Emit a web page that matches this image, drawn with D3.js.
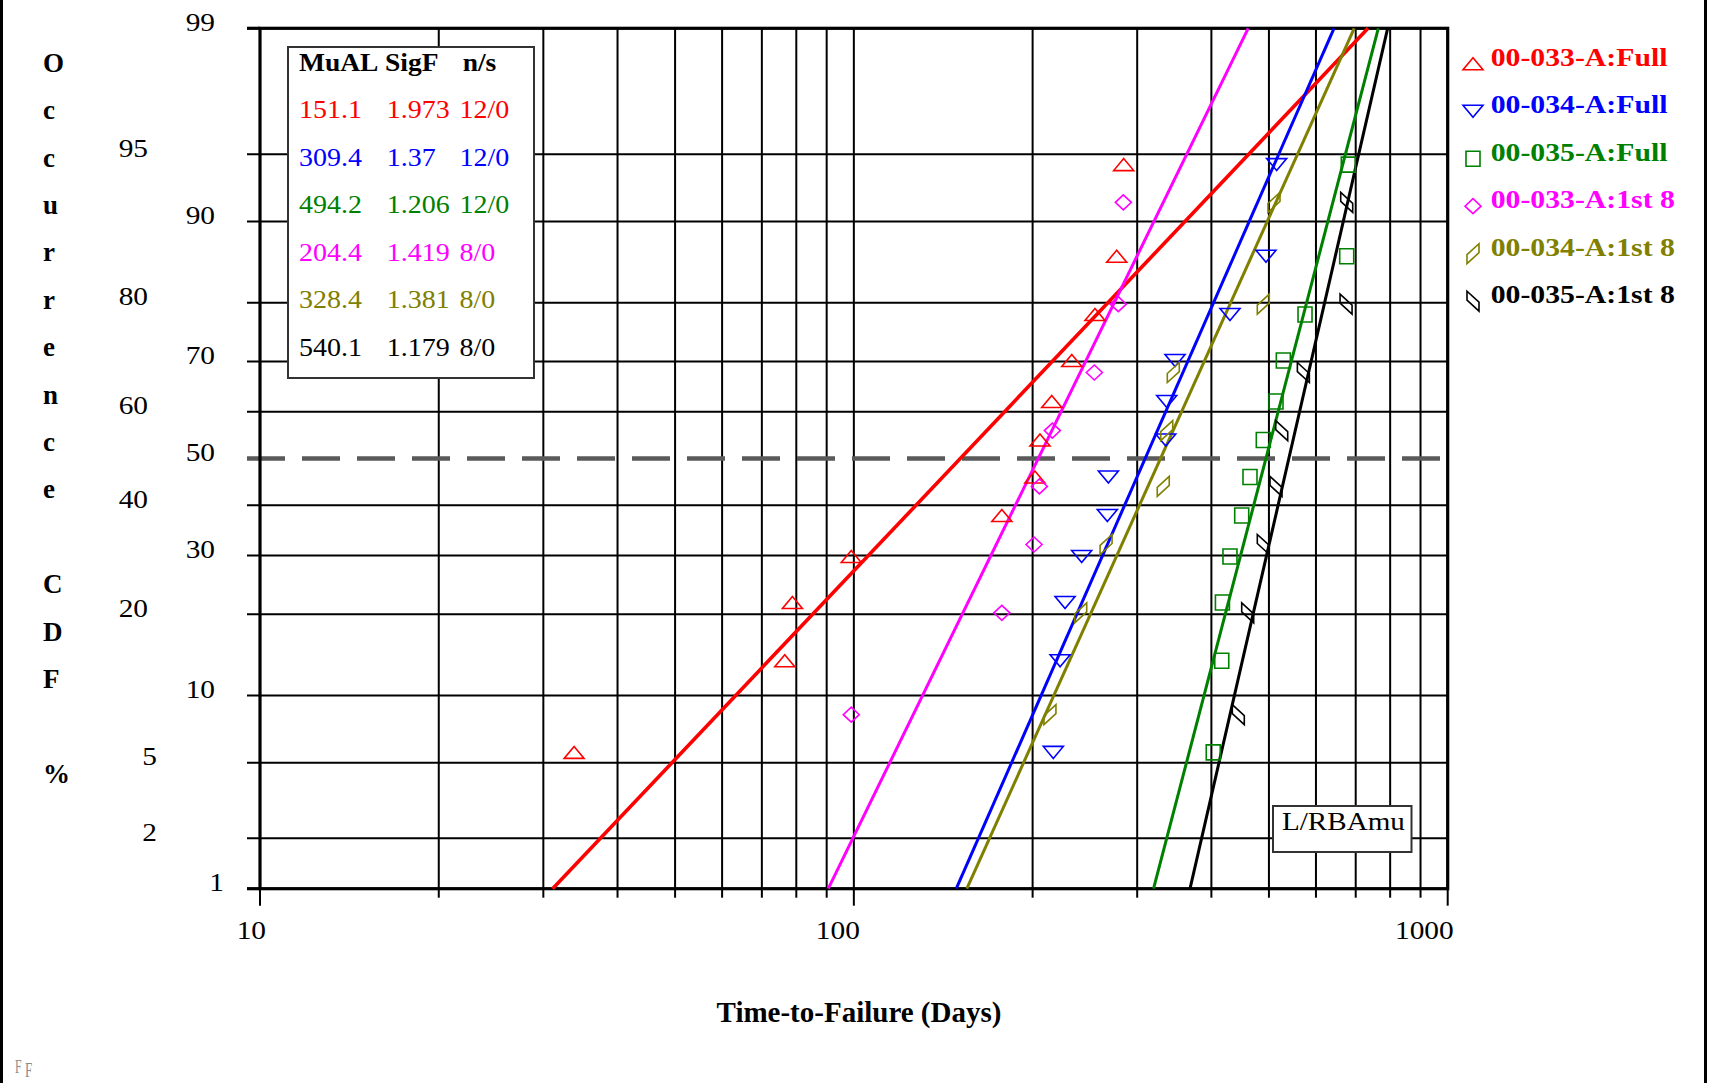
<!DOCTYPE html>
<html>
<head>
<meta charset="utf-8">
<script src="https://cdn.jsdelivr.net/npm/d3@7"></script>
<style>
  html, body { margin: 0; padding: 0; background: #fff; }
  svg { display: block; }
  text { font-family: "Liberation Serif", "Times New Roman", serif; }
</style>
</head>
<body>
<div id="chart"></div>
<script>
// ---- data ----
const seriesNames = ["00-033-A:Full", "00-034-A:Full", "00-035-A:Full",
                     "00-033-A:1st 8", "00-034-A:1st 8", "00-035-A:1st 8"]
const seriesColors = ["#ff0000", "#0000ff", "#008000", "#ff00ff", "#808000", "#000000"]
const seriesShapes = ["triUp", "triDown", "square", "diamond", "slashR", "slashL"]

// fit parameters (MuAL = median life, SigF = exp(sigma))
const muAL = [151.1, 309.4, 494.2, 204.4, 328.4, 540.1]
const sigF = [1.973, 1.37, 1.206, 1.419, 1.381, 1.179]
const nsLabels = ["12/0", "12/0", "12/0", "8/0", "8/0", "8/0"]

// plotting positions (% cumulative) for 12 and 8 samples
const cdf12 = [5.6, 13.7, 21.8, 29.8, 37.9, 46.0, 54.0, 62.1, 70.2, 78.2, 86.3, 94.4]
const cdf8 = [8.3, 20.2, 32.1, 44.0, 56.0, 67.9, 79.8, 91.7]

// time-to-failure (days) per series
const ttf033Full = [33.8, 76.5, 78.8, 99.0, 177.5, 201.8, 205.8, 215.4, 232.8, 254.7, 277.1, 284.7]
const ttf034Full = [216.7, 222.5, 226.8, 241.9, 267.2, 268.3, 335.1, 336.4, 347.4, 429.9, 494.3, 515.2]
const ttf035Full = [402.9, 416.4, 417.5, 429.9, 449.9, 464.6, 489.2, 513.9, 528.7, 575.1, 676.0, 680.2]
const ttf033First8 = [99.0, 177.5, 201.1, 205.3, 215.9, 254.1, 278.8, 284.3]
const ttf034First8 = [213.9, 241.0, 265.9, 331.9, 336.4, 345.1, 489.2, 509.9]
const ttf035First8 = [444.0, 460.5, 489.2, 513.9, 525.4, 571.4, 674.3, 676.0]

const seriesTimes = [ttf033Full, ttf034Full, ttf035Full, ttf033First8, ttf034First8, ttf035First8]
const seriesCdf = [cdf12, cdf12, cdf12, cdf8, cdf8, cdf8]

// axes
const xGridTicks = [10, 20, 30, 40, 50, 60, 70, 80, 90, 100, 200, 300, 400, 500, 600, 700, 800, 900, 1000]
const xLabelTicks = [10, 100, 1000]
const yGridTicks = [1, 2, 5, 10, 20, 30, 40, 60, 70, 80, 90, 95, 99]
const yLabelsInner = [1, 10, 30, 50, 70, 90, 99]
const yLabelsOuter = [2, 5, 20, 40, 60, 80, 95]
const medianLine = 50

// ---- layout ----
const width = 1709, height = 1083
const plot = { left: 260, right: 1447.7, top: 28.3, bottom: 888.7 }

// inverse normal CDF (Acklam)
function probit(p) {
  const a = [-3.969683028665376e+01, 2.209460984245205e+02, -2.759285104469687e+02,
             1.383577518672690e+02, -3.066479806614716e+01, 2.506628277459239e+00]
  const b = [-5.447609879822406e+01, 1.615858368580409e+02, -1.556989798598866e+02,
             6.680131188771972e+01, -1.328068155288572e+01]
  const c = [-7.784894002430293e-03, -3.223964580411365e-01, -2.400758277161838e+00,
             -2.549732539343734e+00, 4.374664141464968e+00, 2.938163982698783e+00]
  const d = [7.784695709041462e-03, 3.224671290700398e-01, 2.445134137142996e+00,
             3.754408661907416e+00]
  const pl = 0.02425
  if (p < pl) {
    const q = Math.sqrt(-2 * Math.log(p))
    return (((((c[0] * q + c[1]) * q + c[2]) * q + c[3]) * q + c[4]) * q + c[5]) /
      ((((d[0] * q + d[1]) * q + d[2]) * q + d[3]) * q + 1)
  }
  if (p > 1 - pl) {
    const q = Math.sqrt(-2 * Math.log(1 - p))
    return -(((((c[0] * q + c[1]) * q + c[2]) * q + c[3]) * q + c[4]) * q + c[5]) /
      ((((d[0] * q + d[1]) * q + d[2]) * q + d[3]) * q + 1)
  }
  const q = p - 0.5, r = q * q
  return (((((a[0] * r + a[1]) * r + a[2]) * r + a[3]) * r + a[4]) * r + a[5]) * q /
    (((((b[0] * r + b[1]) * r + b[2]) * r + b[3]) * r + b[4]) * r + 1)
}

const x = d3.scaleLog().domain([10, 1000]).range([plot.left, plot.right])
const z = d3.scaleLinear().domain([probit(0.01), probit(0.99)]).range([plot.bottom, plot.top])
const y = (pct) => z(probit(pct / 100))

const shapes = {
  triUp: "M-10,6L10,6L0,-6Z",
  triDown: "M-10,-6L10,-6L0,6Z",
  square: "M-7,-7.5H7V7.5H-7Z",
  diamond: "M0,-7.5L8,0L0,7.5L-8,0Z",
  slashR: "M-6,10L-6,1L6,-10L6,-1Z",
  slashL: "M-6,-10L-6,-1L6,10L6,1Z"
}

const svg = d3.select("#chart").append("svg")
  .attr("width", width).attr("height", height)

svg.append("rect").attr("width", width).attr("height", height).attr("fill", "#fff")

// page frame (left and right edges)
svg.append("rect").attr("x", 0).attr("y", 0).attr("width", 3).attr("height", height).attr("fill", "#000")
svg.append("rect").attr("x", 1704).attr("y", 0).attr("width", 3).attr("height", height).attr("fill", "#000")

// stretched text helper
function label(g, str, px, py, opts) {
  const o = Object.assign({ size: 26, weight: "normal", anchor: "start", fill: "#000", sx: 1.13 }, opts)
  return g.append("text")
    .attr("transform", `translate(${px},${py}) scale(${o.sx},1)`)
    .attr("font-size", o.size)
    .attr("font-weight", o.weight)
    .attr("text-anchor", o.anchor)
    .attr("fill", o.fill)
    .text(str)
}

// grid
const grid = svg.append("g")
grid.selectAll("line.vx").data(xGridTicks).join("line")
  .attr("x1", (d) => x(d)).attr("x2", (d) => x(d))
  .attr("y1", plot.top).attr("y2", plot.bottom)
  .attr("stroke", "#000").attr("stroke-width", 2)

grid.selectAll("line.hy").data(yGridTicks).join("line")
  .attr("x1", plot.left - 13).attr("x2", plot.right)
  .attr("y1", (d) => y(d)).attr("y2", (d) => y(d))
  .attr("stroke", "#000").attr("stroke-width", 2)

// 50% dashed line
grid.append("line")
  .attr("x1", plot.left - 13).attr("x2", plot.right)
  .attr("y1", y(medianLine)).attr("y2", y(medianLine))
  .attr("stroke", "#5a5a5a").attr("stroke-width", 4.5)
  .attr("stroke-dasharray", "38,17")

// x ticks below axis
grid.selectAll("line.tx").data(xGridTicks).join("line")
  .attr("x1", (d) => x(d)).attr("x2", (d) => x(d))
  .attr("y1", plot.bottom)
  .attr("y2", (d) => plot.bottom + (xLabelTicks.includes(d) ? 17 : 9))
  .attr("stroke", "#000").attr("stroke-width", 2)

// plot frame
svg.append("rect")
  .attr("x", plot.left).attr("y", plot.top)
  .attr("width", plot.right - plot.left).attr("height", plot.bottom - plot.top)
  .attr("fill", "none").attr("stroke", "#000").attr("stroke-width", 3.2)
svg.append("line")
  .attr("x1", plot.left - 13).attr("x2", plot.left)
  .attr("y1", plot.top).attr("y2", plot.top)
  .attr("stroke", "#000").attr("stroke-width", 3.2)
svg.append("line")
  .attr("x1", plot.left - 13).attr("x2", plot.left)
  .attr("y1", plot.bottom).attr("y2", plot.bottom)
  .attr("stroke", "#000").attr("stroke-width", 3.2)

// fitted lognormal lines, 1% to 99%
const fitLine = d3.line().x((d) => x(d[0])).y((d) => y(d[1]))
const fits = svg.append("g")
seriesNames.forEach((name, i) => {
  const ends = [1, 99].map((p) => [muAL[i] * Math.pow(sigF[i], probit(p / 100)), p])
  fits.append("path")
    .attr("d", fitLine(ends))
    .attr("fill", "none")
    .attr("stroke", seriesColors[i])
    .attr("stroke-width", i === 0 ? 3.6 : 3)
})

// data markers
const marks = svg.append("g")
seriesNames.forEach((name, i) => {
  const pts = seriesTimes[i].map((t, k) => [t, seriesCdf[i][k]])
  marks.selectAll(null).data(pts).join("path")
    .attr("d", shapes[seriesShapes[i]])
    .attr("transform", (d) => `translate(${x(d[0])},${y(d[1])})`)
    .attr("fill", "none")
    .attr("stroke", seriesColors[i])
    .attr("stroke-width", 1.6)
})

// y tick labels (two staggered columns)
const yl = svg.append("g")
yLabelsInner.forEach((v) => label(yl, v, v < 10 ? 224 : 215, y(v) + 2.5, { anchor: "end" }))
yLabelsOuter.forEach((v) => label(yl, v, v < 10 ? 157 : 148, y(v) + 2.5, { anchor: "end" }))

// x tick labels
const xl = svg.append("g")
xLabelTicks.forEach((v) => label(xl, v, x(v) + 6, 939, { anchor: "end" }))

// x axis title
svg.append("text")
  .attr("x", 859).attr("y", 1021.5)
  .attr("text-anchor", "middle")
  .attr("font-size", 29).attr("font-weight", "bold")
  .text("Time-to-Failure (Days)")

// y axis title, one letter per row
const yTitle = "Occurrence CDF %"
svg.append("g").selectAll("text").data(yTitle.split("")).join("text")
  .attr("x", 43).attr("y", (d, i) => 71.7 + 47.4 * i)
  .attr("font-size", 27).attr("font-weight", "bold")
  .text((d) => d)

// stats box
const stats = svg.append("g")
stats.append("rect")
  .attr("x", 288).attr("y", 47).attr("width", 246).attr("height", 331)
  .attr("fill", "#fff").attr("stroke", "#333").attr("stroke-width", 2)
label(stats, "MuAL", 299, 71, { weight: "bold", size: 25, sx: 1.1 })
label(stats, "SigF", 385, 71, { weight: "bold", size: 25, sx: 1.1 })
label(stats, "n/s", 462.7, 71, { weight: "bold", size: 25, sx: 1.1 })
seriesNames.forEach((name, i) => {
  const by = 118 + 47.6 * i
  label(stats, String(muAL[i]), 299, by, { size: 25, sx: 1.12, fill: seriesColors[i] })
  label(stats, String(sigF[i]), 386.7, by, { size: 25, sx: 1.12, fill: seriesColors[i] })
  label(stats, nsLabels[i], 459.5, by, { size: 25, sx: 1.12, fill: seriesColors[i] })
})

// L/RBAmu box
const lr = svg.append("g")
lr.append("rect")
  .attr("x", 1273).attr("y", 806).attr("width", 138.5).attr("height", 46)
  .attr("fill", "#fff").attr("stroke", "#333").attr("stroke-width", 2)
label(lr, "L/RBAmu", 1282, 830, { size: 26, sx: 1.12 })

// legend
const legend = svg.append("g")
seriesNames.forEach((name, i) => {
  const by = 65.7 + 47.5 * i
  legend.append("path")
    .attr("d", shapes[seriesShapes[i]])
    .attr("transform", `translate(1473,${by - 2})`)
    .attr("fill", "none").attr("stroke", seriesColors[i]).attr("stroke-width", 1.6)
  label(legend, name, 1490.7, by, { size: 25, weight: "bold", sx: 1.19, fill: seriesColors[i] })
})

// small corner mark
const ff = svg.append("g").attr("font-family", "DejaVu Sans, sans-serif").attr("fill", "#8a8a8a")
ff.append("text").attr("transform", "translate(15,1073) scale(0.62,1)").attr("font-size", 19).text("F")
ff.append("text").attr("transform", "translate(25,1077) scale(0.62,1)").attr("font-size", 21).text("F")
</script>
</body>
</html>
